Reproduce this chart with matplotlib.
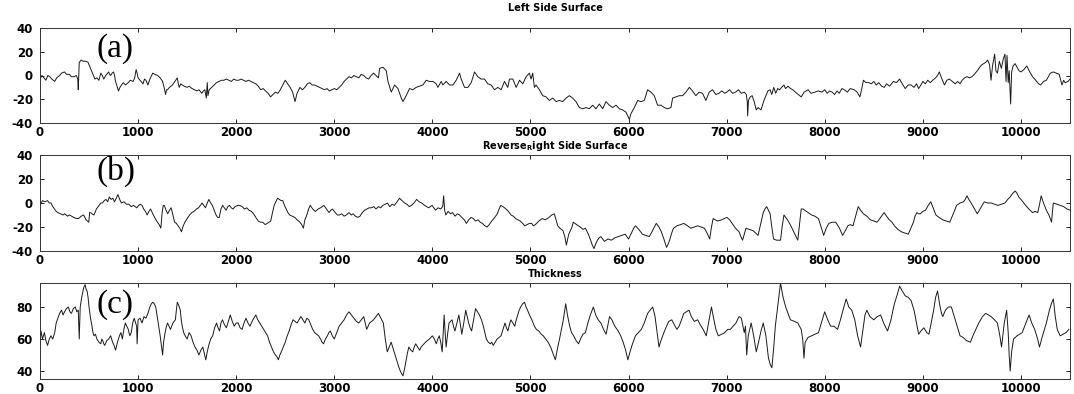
import numpy as np
import matplotlib
matplotlib.use("Agg")
import matplotlib.pyplot as plt

plt.rcParams['axes.unicode_minus'] = False

# (a) left side surface
left_x = [0, 20, 40, 60, 80, 100, 120, 150, 170, 200, 220, 250, 270, 300, 320, 350, 370, 385, 390, 400,
          420, 440, 470, 490, 500, 515, 530, 545, 560, 580, 600, 610, 620, 635, 650, 670, 700, 710, 720, 735,
          750, 760, 770, 785, 800, 815, 830, 850, 870, 885, 900, 920, 950, 965, 980, 990, 1000, 1020, 1050, 1065,
          1080, 1100, 1120, 1150, 1170, 1200, 1225, 1250, 1265, 1280, 1290, 1300, 1320, 1350, 1375, 1400, 1410, 1420, 1435, 1450,
          1470, 1500, 1520, 1550, 1575, 1600, 1620, 1650, 1665, 1680, 1695, 1705, 1712, 1725, 1750, 1775, 1800, 1825, 1850, 1875,
          1900, 1925, 1950, 1975, 2000, 2025, 2050, 2075, 2100, 2125, 2150, 2175, 2200, 2225, 2250, 2275, 2300, 2325, 2350, 2375,
          2400, 2425, 2450, 2475, 2500, 2525, 2550, 2575, 2600, 2620, 2650, 2675, 2700, 2725, 2750, 2775, 2800, 2825, 2850, 2875,
          2900, 2925, 2950, 2975, 3000, 3025, 3050, 3075, 3100, 3125, 3150, 3175, 3200, 3225, 3250, 3275, 3300, 3325, 3350, 3375,
          3400, 3425, 3450, 3462, 3496, 3530, 3547, 3581, 3615, 3649, 3683, 3700, 3733, 3767, 3801, 3835, 3869, 3903, 3937, 3971,
          4005, 4039, 4056, 4090, 4107, 4141, 4175, 4209, 4243, 4277, 4294, 4328, 4362, 4396, 4430, 4463, 4497, 4531, 4565, 4599,
          4633, 4667, 4701, 4735, 4769, 4786, 4820, 4854, 4888, 4922, 4955, 4989, 5006, 5023, 5040, 5057, 5091, 5125, 5159, 5193,
          5227, 5261, 5295, 5329, 5363, 5396, 5430, 5464, 5498, 5532, 5566, 5600, 5634, 5668, 5702, 5736, 5770, 5804, 5838, 5872,
          5906, 5940, 5974, 6008, 6025, 6059, 6093, 6127, 6160, 6194, 6228, 6262, 6296, 6330, 6364, 6398, 6432, 6449, 6483, 6517,
          6551, 6585, 6619, 6652, 6686, 6720, 6754, 6788, 6822, 6856, 6890, 6920, 6950, 6980, 7000, 7030, 7060, 7091, 7120, 7150,
          7180, 7200, 7210, 7214, 7222, 7240, 7260, 7280, 7302, 7320, 7350, 7365, 7380, 7400, 7420, 7443, 7460, 7480, 7500, 7520,
          7540, 7560, 7584, 7600, 7625, 7650, 7675, 7700, 7730, 7760, 7790, 7830, 7860, 7900, 7935, 7971, 8000, 8025, 8050, 8075,
          8100, 8125, 8147, 8175, 8200, 8230, 8260, 8300, 8330, 8358, 8375, 8394, 8420, 8450, 8475, 8500, 8525, 8550, 8580, 8605,
          8630, 8660, 8700, 8730, 8763, 8790, 8820, 8850, 8880, 8910, 8935, 8957, 8980, 9000, 9025, 9050, 9075, 9100, 9130, 9150,
          9168, 9190, 9220, 9245, 9270, 9300, 9330, 9355, 9379, 9400, 9425, 9450, 9475, 9500, 9525, 9555, 9580, 9600, 9620, 9640,
          9661, 9680, 9695, 9710, 9732, 9745, 9760, 9780, 9800, 9820, 9837, 9848, 9858, 9870, 9880, 9895, 9905, 9920, 9940, 9960,
          9980, 10000, 10030, 10060, 10090, 10118, 10150, 10180, 10200, 10230, 10259, 10280, 10300, 10330, 10360, 10390, 10418, 10435, 10450, 10480,
          10500]
left_y = [-3, 0, -2, -4, 0, -1, -3, -5, -2, 0, 2, 3, 1, 1, -1, -1, 0, -3, -12, 11,
          13, 12, 12, 11, 9, 6, 3, 0, -3, -2, -4, -1, 2, 0, -3, 0, 3, 1, 0, 2,
          3, 0, -5, -9, -13, -10, -8, -6, -8, -7, -6, -4, -5, -2, 5, 2, -2, -4, -7, -3,
          -4, -8, -3, 2, 1, 0, -2, -5, -10, -16, -12, -12, -10, -8, -5, -2, -7, -10, -7, -8,
          -9, -10, -9, -11, -12, -13, -12, -15, -13, -12, -19, -6, -17, -12, -10, -8, -6, -5, -4, -4,
          -3, -4, -5, -3, -4, -4, -3, -4, -5, -4, -5, -6, -7, -9, -12, -11, -13, -15, -18, -16,
          -14, -15, -12, -8, -4, -7, -10, -14, -22, -15, -10, -12, -10, -7, -6, -8, -8, -9, -10, -11,
          -12, -11, -13, -12, -11, -12, -10, -8, -5, -3, -1, -2, 0, -1, -2, 1, 0, -2, -3, 0,
          2, 0, -2, 6, 7, 4, -5, -14, -8, -11, -19, -22, -17, -11, -12, -10, -9, -8, -4, -5,
          -5, -7, -10, -5, -8, -5, -8, -8, -4, 2, -3, -10, -10, -6, 3, -1, -3, -3, -7, -8,
          -12, -10, -12, -5, -10, -3, -3, -10, -4, -7, -1, 2, -3, 2, -10, -8, -12, -17, -18, -21,
          -19, -22, -21, -22, -19, -17, -19, -22, -27, -28, -27, -28, -25, -28, -24, -28, -22, -25, -27, -25,
          -28, -29, -31, -37, -32, -27, -21, -22, -21, -12, -14, -17, -25, -25, -27, -28, -27, -19, -18, -17,
          -17, -14, -10, -13, -17, -14, -15, -21, -14, -12, -16, -15, -13, -15, -14, -12, -15, -14, -12, -15,
          -14, -16, -22, -34, -21, -18, -17, -22, -29, -27, -29, -25, -21, -17, -13, -12, -16, -10, -15, -11,
          -12, -10, -8, -11, -9, -11, -12, -14, -16, -18, -14, -12, -15, -14, -13, -14, -12, -15, -13, -14,
          -16, -13, -15, -11, -12, -14, -11, -12, -14, -18, -12, -4, -6, -6, -7, -5, -8, -6, -9, -10,
          -7, -9, -5, -6, -3, -7, -11, -8, -8, -10, -7, -11, -8, -5, -7, -4, -6, -4, -2, 0,
          3, -2, -8, -4, -3, -5, -7, -5, -7, -4, -2, -1, -2, -1, 1, 4, 7, 9, 10, 11,
          13, 9, -4, 8, 18, 4, 2, 12, 6, 14, 18, -5, 17, -6, 4, -24, 3, 8, 10, 7,
          4, 3, 5, 8, 3, -1, -4, -7, -8, -5, -4, -1, 2, 3, 2, 1, -8, -4, -6, -5,
          -3]

# (b) reversed right side surface
right_x = [0, 25, 50, 77, 95, 112, 130, 147, 165, 182, 210, 235, 252, 280, 300, 322, 345, 370, 392, 420,
           445, 470, 497, 506, 515, 530, 550, 575, 602, 620, 637, 655, 672, 690, 707, 725, 742, 760, 778, 795,
           812, 830, 855, 882, 905, 930, 952, 970, 987, 1005, 1022, 1040, 1057, 1075, 1092, 1110, 1127, 1150, 1175, 1197,
           1215, 1232, 1245, 1257, 1267, 1285, 1302, 1320, 1337, 1355, 1372, 1390, 1407, 1425, 1442, 1460, 1477, 1500, 1525, 1547,
           1570, 1595, 1617, 1635, 1652, 1670, 1687, 1705, 1722, 1740, 1757, 1775, 1795, 1810, 1827, 1845, 1862, 1880, 1897, 1915,
           1932, 1950, 1967, 1990, 2015, 2037, 2060, 2085, 2107, 2130, 2155, 2177, 2200, 2225, 2247, 2270, 2295, 2317, 2335, 2352,
           2370, 2387, 2405, 2422, 2440, 2458, 2475, 2492, 2510, 2527, 2545, 2570, 2597, 2620, 2650, 2668, 2685, 2700, 2720, 2738,
           2755, 2780, 2807, 2835, 2860, 2878, 2895, 2920, 2947, 2965, 2982, 3010, 3032, 3052, 3075, 3100, 3122, 3150, 3172, 3192,
           3215, 3240, 3262, 3285, 3310, 3332, 3355, 3380, 3402, 3425, 3450, 3472, 3495, 3520, 3542, 3565, 3590, 3612, 3640, 3665,
           3690, 3717, 3740, 3765, 3787, 3812, 3840, 3865, 3892, 3920, 3940, 3962, 3980, 3997, 4015, 4032, 4058, 4085, 4105, 4115,
           4125, 4137, 4160, 4185, 4207, 4230, 4255, 4277, 4300, 4325, 4347, 4370, 4395, 4417, 4440, 4465, 4487, 4510, 4535, 4557,
           4580, 4605, 4627, 4645, 4662, 4680, 4697, 4720, 4750, 4775, 4802, 4825, 4850, 4872, 4895, 4920, 4942, 4965, 4990, 5012,
           5030, 5050, 5085, 5120, 5150, 5190, 5215, 5243, 5260, 5278, 5300, 5331, 5350, 5366, 5390, 5419, 5437, 5470, 5507, 5535,
           5560, 5590, 5613, 5630, 5648, 5665, 5683, 5700, 5718, 5736, 5754, 5790, 5824, 5860, 5894, 5930, 5965, 5983, 6000, 6018,
           6035, 6052, 6070, 6105, 6141, 6175, 6211, 6245, 6282, 6310, 6334, 6360, 6387, 6405, 6422, 6440, 6458, 6475, 6493, 6530,
           6563, 6600, 6634, 6670, 6704, 6740, 6774, 6800, 6827, 6845, 6862, 6905, 6950, 6975, 7003, 7030, 7056, 7090, 7126, 7145,
           7162, 7180, 7197, 7230, 7267, 7295, 7320, 7345, 7373, 7390, 7408, 7425, 7443, 7460, 7478, 7510, 7549, 7565, 7584, 7620,
           7654, 7690, 7725, 7742, 7760, 7778, 7795, 7830, 7866, 7900, 7936, 7962, 7989, 8015, 8042, 8075, 8112, 8150, 8182, 8210,
           8235, 8260, 8288, 8315, 8341, 8365, 8394, 8430, 8464, 8500, 8534, 8570, 8605, 8630, 8658, 8685, 8710, 8745, 8781, 8815,
           8851, 8878, 8904, 8920, 8939, 8955, 8974, 9000, 9027, 9055, 9080, 9105, 9133, 9165, 9203, 9240, 9274, 9310, 9344, 9380,
           9414, 9432, 9450, 9468, 9485, 9520, 9555, 9590, 9626, 9660, 9696, 9730, 9766, 9800, 9837, 9865, 9890, 9915, 9942, 9960,
           9978, 10010, 10048, 10080, 10118, 10145, 10171, 10190, 10206, 10230, 10259, 10285, 10312, 10320, 10330, 10365, 10400, 10435, 10470, 10500]
right_y = [-2, 2, 1, 2, 0, 0, -3, -5, -7, -8, -9, -10, -9, -11, -10, -11, -12, -13, -13, -11,
           -10, -14, -16, -8, -8, -9, -10, -5, -2, 0, 0, 2, 3, 1, 5, 3, 4, 1, 4, 7,
           3, 0, 1, -1, -1, -3, -2, -3, -4, -2, -1, -2, -5, -7, -10, -7, -5, -9, -13, -16,
           -18, -21, -8, -2, -2, -6, -9, -6, -4, -10, -16, -17, -19, -21, -24, -19, -16, -13, -10, -8,
           -7, -5, -4, -2, 0, -2, -4, 0, 3, 0, -2, -6, -10, -12, -12, -5, -2, -4, -6, -3,
           -2, -4, -5, -3, -2, -2, -3, -5, -4, -6, -7, -9, -12, -15, -16, -16, -18, -17, -16, -15,
           -8, -2, 1, 4, 3, 2, 2, -2, -5, -8, -10, -11, -12, -14, -16, -18, -21, -14, -10, -5,
           -2, -5, -7, -5, -4, -3, -2, -5, -8, -6, -5, -8, -10, -10, -9, -11, -10, -8, -10, -9,
           -11, -12, -11, -8, -6, -5, -4, -4, -3, -5, -3, -4, -2, -1, 0, -3, -1, -2, 1, 4,
           2, 0, -1, -3, -2, 0, 3, 1, 0, -2, -3, -4, -3, -2, -4, -6, -4, -5, -3, 6,
           -6, -10, -7, -9, -8, -11, -9, -10, -12, -14, -17, -14, -12, -13, -15, -14, -16, -17, -19, -20,
           -18, -15, -13, -11, -9, -5, -2, -3, -5, -7, -10, -11, -13, -14, -15, -17, -19, -18, -17, -17,
           -19, -18, -15, -13, -14, -12, -10, -9, -14, -19, -21, -23, -28, -35, -26, -21, -16, -18, -20, -22,
           -21, -26, -31, -35, -38, -34, -31, -29, -28, -30, -32, -30, -31, -29, -28, -27, -26, -28, -30, -27,
           -24, -21, -19, -22, -26, -27, -28, -23, -17, -20, -24, -30, -37, -34, -30, -25, -21, -20, -19, -18,
           -17, -19, -21, -20, -19, -20, -21, -25, -30, -20, -13, -15, -14, -13, -12, -14, -17, -21, -24, -28,
           -31, -26, -21, -22, -23, -25, -27, -18, -8, -5, -3, -6, -9, -20, -30, -31, -31, -20, -10, -14,
           -19, -25, -31, -18, -5, -5, -6, -8, -10, -11, -13, -20, -27, -21, -17, -16, -16, -21, -27, -23,
           -19, -18, -19, -11, -3, -6, -9, -11, -14, -15, -16, -12, -8, -11, -14, -16, -19, -22, -24, -25,
           -26, -21, -16, -11, -8, -9, -9, -7, -6, -2, 1, -4, -10, -12, -14, -15, -16, -9, -2, 0,
           1, 3, 6, 3, 1, -4, -9, -4, 1, 0, 0, -1, -2, -1, 0, 3, 5, 8, 10, 8,
           5, 2, -2, -5, -8, -7, -8, -1, 6, 0, -6, -10, -16, -8, 0, -1, -2, -3, -5, -6]

# (c) thickness
thick_x = [0, 10, 25, 45, 60, 77, 95, 112, 130, 150, 165, 182, 200, 220, 235, 250, 270, 290, 305, 320,
           340, 360, 375, 390, 400, 410, 425, 445, 460, 470, 480, 490, 500, 515, 530, 540, 550, 565, 580, 600,
           620, 630, 640, 650, 660, 680, 700, 720, 740, 755, 770, 790, 810, 825, 840, 855, 870, 885, 900, 915,
           930, 945, 960, 975, 985, 990, 1000, 1020, 1040, 1050, 1060, 1080, 1100, 1110, 1120, 1135, 1150, 1165, 1180, 1200,
           1225, 1250, 1260, 1270, 1285, 1300, 1315, 1330, 1355, 1380, 1390, 1400, 1415, 1430, 1440, 1450, 1465, 1480, 1490, 1500,
           1520, 1540, 1560, 1580, 1600, 1620, 1640, 1660, 1675, 1690, 1705, 1720, 1740, 1760, 1780, 1800, 1815, 1830, 1845, 1860,
           1880, 1900, 1920, 1940, 1960, 1980, 2000, 2020, 2040, 2060, 2080, 2100, 2120, 2140, 2170, 2200, 2220, 2240, 2260, 2280,
           2300, 2320, 2340, 2360, 2380, 2400, 2415, 2430, 2445, 2460, 2480, 2500, 2520, 2540, 2560, 2580, 2600, 2620, 2640, 2660,
           2680, 2700, 2720, 2740, 2760, 2780, 2800, 2820, 2840, 2860, 2875, 2890, 2910, 2930, 2945, 2960, 2980, 3000, 3025, 3050,
           3075, 3100, 3125, 3150, 3175, 3200, 3225, 3250, 3275, 3300, 3315, 3330, 3345, 3360, 3380, 3400, 3425, 3450, 3475, 3500,
           3520, 3540, 3560, 3580, 3600, 3620, 3640, 3660, 3680, 3700, 3715, 3730, 3745, 3760, 3780, 3800, 3815, 3830, 3850, 3870,
           3885, 3900, 3915, 3930, 3950, 3970, 3985, 4000, 4020, 4040, 4055, 4070, 4085, 4100, 4110, 4120, 4130, 4140, 4155, 4170,
           4185, 4200, 4215, 4230, 4250, 4270, 4285, 4300, 4320, 4340, 4355, 4370, 4385, 4400, 4420, 4440, 4460, 4480, 4500, 4520,
           4535, 4550, 4570, 4590, 4605, 4620, 4640, 4660, 4680, 4700, 4720, 4740, 4755, 4770, 4785, 4800, 4820, 4840, 4855, 4870,
           4885, 4900, 4920, 4940, 4955, 4970, 4990, 5014, 5040, 5060, 5085, 5110, 5130, 5155, 5180, 5205, 5230, 5254, 5275, 5296,
           5315, 5335, 5359, 5380, 5400, 5419, 5440, 5465, 5490, 5510, 5535, 5560, 5585, 5610, 5641, 5665, 5690, 5718, 5745, 5771,
           5790, 5806, 5830, 5860, 5894, 5920, 5945, 5970, 5993, 6015, 6040, 6070, 6100, 6130, 6160, 6194, 6220, 6246, 6270, 6295,
           6310, 6330, 6360, 6387, 6410, 6440, 6465, 6493, 6515, 6540, 6563, 6590, 6616, 6640, 6670, 6704, 6730, 6760, 6792, 6815,
           6845, 6870, 6890, 6915, 6950, 6980, 7010, 7038, 7065, 7095, 7126, 7150, 7179, 7192, 7204, 7220, 7250, 7275, 7302, 7325,
           7350, 7373, 7400, 7426, 7445, 7461, 7480, 7496, 7520, 7535, 7549, 7575, 7602, 7625, 7650, 7690, 7725, 7760, 7775, 7788,
           7800, 7830, 7866, 7900, 7936, 7965, 7999, 8030, 8060, 8094, 8130, 8160, 8190, 8218, 8245, 8275, 8306, 8335, 8365, 8390,
           8410, 8429, 8460, 8500, 8535, 8570, 8600, 8640, 8675, 8695, 8710, 8740, 8763, 8790, 8820, 8851, 8880, 8910, 8935, 8957,
           8980, 9010, 9040, 9062, 9085, 9110, 9130, 9150, 9170, 9190, 9203, 9230, 9260, 9291, 9320, 9350, 9379, 9410, 9445, 9485,
           9510, 9540, 9570, 9608, 9640, 9670, 9696, 9730, 9760, 9785, 9802, 9830, 9854, 9870, 9880, 9890, 9905, 9925, 9960, 10013,
           10050, 10083, 10110, 10140, 10170, 10189, 10220, 10259, 10290, 10310, 10330, 10350, 10370, 10400, 10430, 10460, 10488]
thick_y = [58, 65, 60, 64, 59, 56, 60, 62, 60, 64, 70, 73, 76, 78, 75, 77, 79, 80, 77, 76,
           79, 80, 77, 78, 60, 80, 86, 92, 94, 91, 90, 86, 80, 73, 68, 64, 62, 63, 60, 58,
           57, 60, 59, 57, 56, 59, 60, 62, 58, 56, 53, 58, 62, 64, 60, 66, 70, 68, 66, 62,
           64, 70, 73, 70, 68, 57, 72, 73, 70, 72, 74, 73, 76, 78, 80, 82, 83, 82, 80, 72,
           62, 50, 58, 62, 67, 70, 68, 66, 70, 72, 78, 83, 81, 78, 72, 68, 64, 62, 61, 60,
           64, 62, 58, 55, 53, 50, 53, 55, 51, 47, 52, 56, 60, 62, 67, 70, 67, 65, 70, 72,
           69, 67, 71, 75, 71, 68, 70, 70, 67, 66, 70, 73, 70, 68, 72, 75, 72, 70, 68, 66,
           64, 62, 58, 55, 52, 50, 49, 47, 50, 52, 55, 58, 62, 65, 69, 72, 71, 70, 72, 74,
           72, 70, 73, 72, 69, 66, 64, 63, 62, 60, 58, 57, 60, 62, 64, 65, 62, 60, 64, 68,
           70, 72, 75, 77, 75, 73, 71, 70, 72, 74, 70, 66, 68, 70, 71, 72, 74, 76, 73, 70,
           60, 52, 55, 58, 54, 50, 46, 42, 39, 37, 41, 46, 51, 55, 53, 52, 55, 57, 55, 53,
           55, 56, 57, 58, 59, 60, 61, 62, 60, 57, 60, 62, 58, 52, 64, 75, 64, 55, 63, 70,
           71, 72, 68, 65, 70, 75, 69, 63, 70, 78, 74, 70, 67, 65, 72, 79, 77, 75, 72, 68,
           64, 60, 58, 57, 58, 56, 58, 60, 61, 62, 66, 70, 67, 65, 69, 72, 70, 68, 72, 75,
           78, 80, 82, 83, 80, 78, 75, 72, 68, 66, 65, 63, 62, 60, 58, 55, 51, 47, 54, 60,
           66, 72, 82, 74, 68, 64, 62, 59, 57, 60, 63, 64, 70, 75, 80, 75, 72, 70, 66, 63,
           69, 74, 72, 68, 65, 62, 58, 53, 47, 52, 57, 62, 64, 66, 70, 76, 78, 80, 74, 62,
           55, 59, 64, 68, 71, 72, 69, 66, 68, 72, 76, 77, 78, 74, 71, 72, 69, 66, 62, 70,
           80, 72, 66, 62, 63, 64, 66, 66, 68, 70, 74, 73, 64, 68, 50, 62, 70, 62, 52, 58,
           65, 70, 62, 48, 44, 42, 55, 68, 80, 88, 95, 86, 80, 76, 72, 71, 70, 66, 60, 48,
           58, 61, 62, 63, 64, 70, 77, 72, 68, 68, 66, 72, 79, 85, 80, 78, 72, 62, 55, 66,
           75, 78, 74, 72, 74, 75, 70, 65, 72, 78, 82, 88, 93, 90, 87, 86, 84, 78, 70, 63,
           65, 67, 64, 63, 70, 78, 86, 90, 82, 76, 74, 78, 80, 80, 74, 68, 62, 61, 59, 58,
           62, 66, 70, 74, 76, 75, 74, 72, 70, 62, 55, 70, 78, 64, 50, 40, 52, 60, 62, 64,
           70, 75, 70, 66, 60, 55, 62, 70, 78, 82, 85, 74, 66, 62, 63, 64, 66]

titles = ['Left Side Surface', 'Reverse$_{\\mathregular{R}}$ight Side Surface', 'Thickness']
labels = ['(a)', '(b)', '(c)']
series = [(left_x, left_y), (right_x, right_y), (thick_x, thick_y)]
ylims = [(-40, 40), (-40, 40), (35, 95)]
yticks = [[-40, -20, 0, 20, 40], [-40, -20, 0, 20, 40], [40, 60, 80]]

W, H = 1074, 394
# axes boxes in pixels: left, top, right, bottom
boxes = [(40, 28, 1070, 123), (40, 155, 1070, 251), (40, 283, 1070, 379)]
title_pads = [12, 4, 4]
label_pos = [0.78, 0.83, 0.77]

fig = plt.figure(figsize=(W / 100, H / 100), dpi=100)
for i in range(3):
    l, t, r, b = boxes[i]
    ax = fig.add_axes([l / W, 1 - b / H, (r - l) / W, (b - t) / H])
    ax.plot(series[i][0], series[i][1], color='#1a1a1a', lw=0.7)
    ax.set_xlim(0, 10500)
    ax.set_ylim(*ylims[i])
    ax.set_xticks(np.arange(0, 10001, 1000))
    ax.set_yticks(yticks[i])
    ax.tick_params(direction='in', length=3, width=0.6, top=True, right=True,
                   labelsize=8.5, pad=2)
    ax.tick_params(axis='y', pad=5)
    for lab in ax.get_xticklabels() + ax.get_yticklabels():
        lab.set_fontweight('bold')
    for s in ax.spines.values():
        s.set_linewidth(0.7)
        s.set_color('#333333')
    ax.set_title(titles[i], fontsize=7, fontweight='bold', pad=title_pads[i])
    ax.text(0.055, label_pos[i], labels[i], transform=ax.transAxes,
            fontsize=24, family='Liberation Serif', va='center', ha='left')

fig.savefig('out.png', dpi=100)
